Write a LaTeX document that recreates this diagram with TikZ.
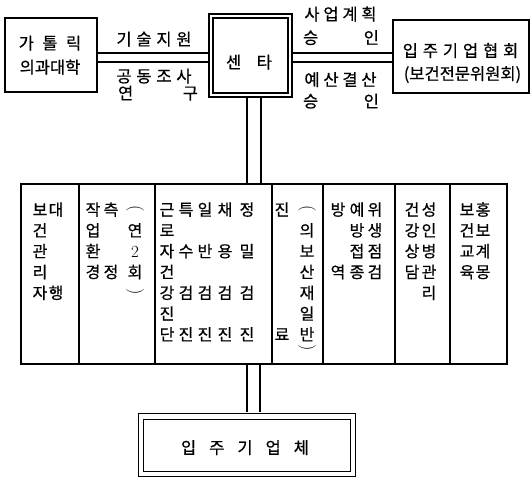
\documentclass[tikz,border=0pt]{standalone}
\usepackage{fontspec}
\newfontfamily\krfont[FakeBold=0.6]{Noto Sans CJK KR}
\tikzset{
  ln/.style={line width=1.4pt},
  boxs/.style={draw, line width=1.4pt, inner sep=0pt},
  dblbox/.style={draw, line width=1.3pt, double, inner sep=0pt},
  conn/.style={draw, line width=1.3pt, double},
  kr/.style={font=\krfont\fontsize{16}{16}\selectfont, inner sep=0pt, text height=13.3pt, text depth=1.1pt},
  lab/.style={font=\krfont\fontsize{16.5}{16.5}\selectfont, inner sep=0pt, text height=13.7pt, text depth=1.2pt},
  brk/.style={font=\rmfamily\fontsize{18}{18}\selectfont, inner sep=0pt, rotate=-90},
}
\newcommand\subcol[3]{\foreach \rowi/\chr in {#3}{\node[kr] (#1-\rowi) at (#2,{209.5+20.8*\rowi}) {\chr};}}
\begin{document}
\begin{tikzpicture}[x=1pt,y=-1pt]
\useasboundingbox (0,0) rectangle (532,480);
% boxes
\node[boxs, minimum width=92pt, minimum height=74pt] (univ) at (51,55) {};
\node[dblbox, double distance=2.7pt, minimum width=79pt, minimum height=79pt] (center) at (250.5,55.5) {};
\node[boxs, minimum width=136pt, minimum height=73pt] (assoc) at (461,56.5) {};
\node[boxs, minimum width=486pt, minimum height=180pt] (table) at (264,274) {};
\node[dblbox, double distance=4.2pt, minimum width=212pt, minimum height=57.5pt] (firms) at (247,445.25) {};
% connectors
\coordinate (hl) at (0,57.5);
\coordinate (vt) at (254,0);
\coordinate (vb) at (253.5,0);
\draw[conn, double distance=7.7pt, shorten <=0.7pt, shorten >=2.6pt] (univ.east |- hl) -- (center.west |- hl);
\draw[conn, double distance=7.7pt, shorten <=2.6pt, shorten >=0.7pt] (center.east |- hl) -- (assoc.west |- hl);
\draw[conn, double distance=12.7pt, shorten <=2.6pt, shorten >=0.7pt] (center.south -| vt) -- (table.north -| vt);
\draw[conn, double distance=11.7pt, shorten <=0.7pt, shorten >=3.4pt] (table.south -| vb) -- (firms.north -| vb);
% table rules
\foreach \xx in {79,155,272,323,395,450} \draw[ln] (\xx,184) -- (\xx,364);
% labels
\node[lab] (univ1) at (50,43) {가\hspace{8.5pt}톨\hspace{8.5pt}릭};
\node[lab] (univ2) at (50,67) {의과대학};
\node[lab] (ctr) at (249,62) {센\hspace{15.5pt}타};
\node[lab] (t1) at (154,39) {기\hspace{4.8pt}술\hspace{4.8pt}지\hspace{4.8pt}원};
\node[lab] (t2) at (154,76) {공\hspace{4.8pt}동\hspace{4.8pt}조\hspace{4.8pt}사};
\node[lab] (t3) at (158,93) {연\hspace{49.5pt}구};
\node[lab] (r1) at (340.5,14) {사\hspace{3.8pt}업\hspace{3.8pt}계\hspace{3.8pt}획};
\node[lab] (r2) at (341,37.5) {승\hspace{45.5pt}인};
\node[lab] (r3) at (340.5,79.5) {예\hspace{3.8pt}산\hspace{3.8pt}결\hspace{3.8pt}산};
\node[lab] (r4) at (341,101) {승\hspace{45.5pt}인};
\node[lab] (a1) at (460.5,50.5) {입\hspace{4.9pt}주\hspace{4.9pt}기\hspace{4.9pt}업\hspace{4.9pt}협\hspace{4.9pt}회};
\node[lab] (a2) at (462.5,73.5) {(보건전문위원회)};
\node[lab] (f1) at (245,447.5) {입\hspace{13pt}주\hspace{13pt}기\hspace{13pt}업\hspace{13pt}체};
% table content
\subcol{ca}{40}{0/보,1/건,2/관,3/리,4/자}
\subcol{cb}{56}{0/대,4/행}
\subcol{cc}{93}{0/작,1/업,2/환,3/경}
\subcol{cd}{111}{0/측,3/정}
\node[brk] (ce-0) at (135,209) {(};
\subcol{ce}{135}{1/연,3/회}
\node[kr, font=\rmfamily\fontsize{17}{17}\selectfont] (ce-2) at (135,{209.5+20.8*2}) {2};
\node[brk] (ce-4) at (135,292) {)};
\subcol{cf}{167}{0/근,1/로,2/자,3/건,4/강,5/진,6/단}
\subcol{cg}{186}{0/특,2/수,4/검,6/진}
\subcol{ch}{205}{0/일,2/반,4/검,6/진}
\subcol{ci}{225}{0/채,2/용,4/검,6/진}
\subcol{cj}{247}{0/정,2/밀,4/검,6/진}
\subcol{ck}{282}{0/진,6/료}
\node[brk] (cl-0) at (307,209) {(};
\subcol{cl}{307}{1/의,2/보,3/산,4/재,5/일,6/반}
\node[brk] (cl-7) at (307,348) {)};
\subcol{cm}{338}{0/방,3/역}
\subcol{cn}{357}{0/예,1/방,2/접,3/종}
\subcol{co}{375}{0/위,1/생,2/점,3/검}
\subcol{cp}{412}{0/건,1/강,2/상,3/담}
\subcol{cq}{429}{0/성,1/인,2/병,3/관,4/리}
\subcol{cr}{467}{0/보,1/건,2/교,3/육}
\subcol{cs}{483}{0/홍,1/보,2/계,3/몽}
\end{tikzpicture}
\end{document}
